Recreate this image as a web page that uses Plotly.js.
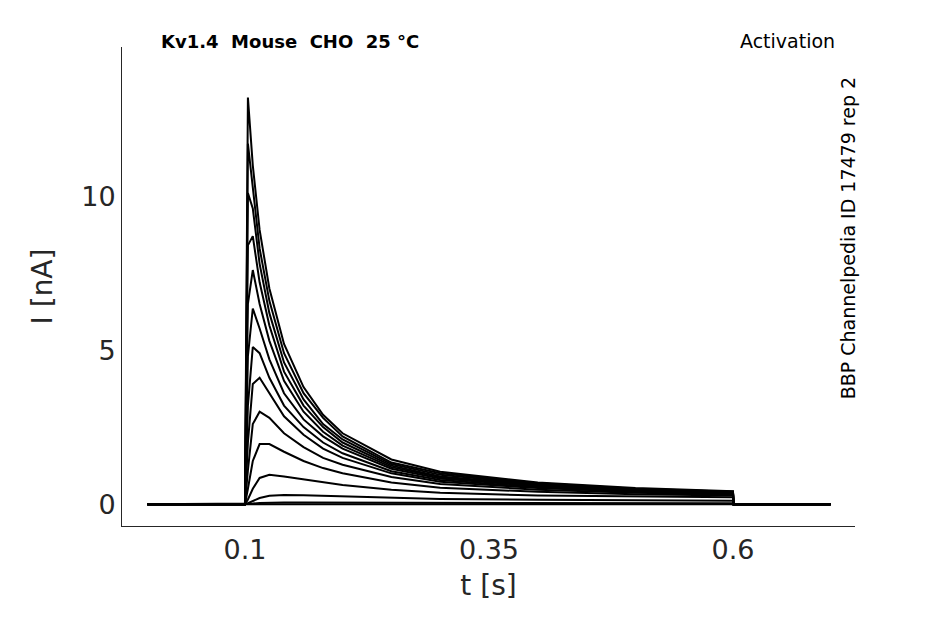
<!DOCTYPE html>
<html>
<head>
<script src="https://cdn.plot.ly/plotly-3.0.1.min.js"></script>
<style>body{margin:0}</style>
</head>
<body>
<div id="chart" style="width:945px;height:624px"></div>
<script>
// sample times (s)
var t = [0, 0.1, 0.103, 0.108, 0.115, 0.125, 0.14, 0.16, 0.18, 0.2, 0.25, 0.3, 0.4, 0.5, 0.6, 0.6005, 0.7];

// current traces (nA), one per voltage step
var sweeps = [
  [0, 0, 13.2, 11.0, 8.9, 7.0, 5.2, 3.8, 2.9, 2.3, 1.45, 1.05, 0.7, 0.52, 0.42, 0, 0],
  [0, 0, 11.7, 10.2, 8.3, 6.6, 4.9, 3.6, 2.8, 2.2, 1.35, 1.0, 0.68, 0.5, 0.4, 0, 0],
  [0, 0, 10.1, 9.6, 7.8, 6.2, 4.6, 3.4, 2.6, 2.1, 1.3, 0.95, 0.65, 0.48, 0.4, 0, 0],
  [0, 0, 8.4, 8.7, 7.2, 5.8, 4.3, 3.2, 2.5, 2.0, 1.25, 0.9, 0.62, 0.47, 0.38, 0, 0],
  [0, 0, 6.5, 7.6, 6.5, 5.3, 4.0, 3.0, 2.35, 1.9, 1.2, 0.87, 0.6, 0.45, 0.37, 0, 0],
  [0, 0, 4.8, 6.35, 5.7, 4.7, 3.6, 2.75, 2.2, 1.8, 1.15, 0.83, 0.58, 0.44, 0.36, 0, 0],
  [0, 0, 3.2, 5.1, 4.9, 4.1, 3.2, 2.5, 2.0, 1.65, 1.07, 0.78, 0.55, 0.42, 0.35, 0, 0],
  [0, 0, 2.0, 3.9, 4.1, 3.6, 2.85, 2.25, 1.8, 1.5, 1.0, 0.73, 0.52, 0.4, 0.34, 0, 0],
  [0, 0, 1.1, 2.6, 3.0, 2.8, 2.3, 1.85, 1.5, 1.28, 0.88, 0.65, 0.47, 0.37, 0.31, 0, 0],
  [0, 0, 0.5, 1.4, 1.95, 1.95, 1.7, 1.4, 1.17, 1.0, 0.7, 0.53, 0.4, 0.32, 0.28, 0, 0],
  [0, 0, 0.15, 0.5, 0.85, 0.95, 0.9, 0.8, 0.7, 0.62, 0.47, 0.37, 0.28, 0.24, 0.22, 0, 0],
  [0, 0, 0.03, 0.1, 0.2, 0.27, 0.3, 0.29, 0.27, 0.25, 0.2, 0.17, 0.14, 0.12, 0.11, 0, 0],
  [0, 0, 0.0, 0.02, 0.04, 0.05, 0.05, 0.05, 0.05, 0.05, 0.04, 0.04, 0.03, 0.03, 0.03, 0, 0],
  [0, 0, 0, 0, 0, 0, 0, 0, 0, 0, 0, 0, 0, 0, 0, 0, 0]
];

var tickVals = [0.1, 0.35, 0.6];
var tickText = ['0.1', '0.35', '0.6'];

var traces = sweeps.map(function (y) {
  return {x: t, y: y, type: 'scatter', mode: 'lines',
          line: {color: 'black', width: 2, shape: 'linear'},
          hoverinfo: 'skip'};
});

var layout = {
  width: 945, height: 624,
  showlegend: false,
  paper_bgcolor: 'white', plot_bgcolor: 'white',
  font: {family: 'DejaVu Sans', color: '#262626'},
  margin: {l: 122, r: 90, t: 47, b: 98},
  xaxis: {range: [-0.026, 0.725], tickvals: tickVals, ticktext: tickText,
          showgrid: false, zeroline: false, showline: true, linecolor: '#262626',
          ticks: 'outside', ticklen: 0, tickfont: {size: 27},
          title: {text: 't [s]', font: {size: 28}, standoff: 10}},
  yaxis: {range: [-0.71, 14.84], tickvals: [0, 5, 10], ticktext: ['0', '5', '10'],
          showgrid: false, zeroline: false, showline: true, linecolor: '#262626',
          ticks: 'outside', ticklen: 0, tickfont: {size: 27},
          title: {text: 'I [nA]', font: {size: 28}, standoff: 20}},
  annotations: [
    {text: '<b>Kv1.4  Mouse  CHO  25 °C</b>', xref: 'paper', yref: 'paper',
     x: 0.05, y: 0.985, xanchor: 'left', yanchor: 'bottom', showarrow: false,
     font: {size: 18, color: 'black'}},
    {text: 'Activation', xref: 'paper', yref: 'paper', x: 0.976, y: 0.985,
     xanchor: 'right', yanchor: 'bottom', showarrow: false, font: {size: 19, color: 'black'}},
    {text: 'BBP Channelpedia ID 17479 rep 2', xref: 'paper', yref: 'paper',
     x: 0.99, y: 0.6, xanchor: 'center', yanchor: 'middle', textangle: -90,
     showarrow: false, font: {size: 19, color: 'black'}}
  ]
};

Plotly.newPlot('chart', traces, layout, {displayModeBar: false, staticPlot: true});
</script>
</body>
</html>
